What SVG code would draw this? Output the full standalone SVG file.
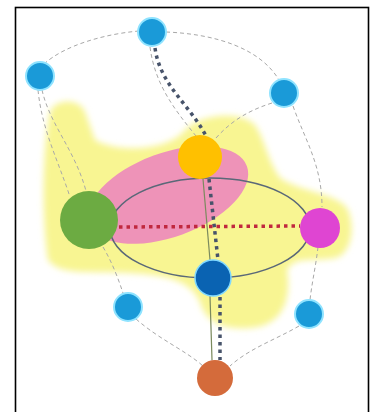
<svg xmlns="http://www.w3.org/2000/svg" width="374" height="412" viewBox="0 0 374 412">
<style>
.net{fill:none;stroke:#a8a8a8;stroke-width:1;stroke-dasharray:4 3}
.dot{fill:none;stroke:#47536a;stroke-width:3.5;stroke-dasharray:3.5 4}
.red{fill:none;stroke:#c0283e;stroke-width:3.5;stroke-dasharray:3.5 4}
.thin{fill:none;stroke:#7b8a5e;stroke-width:1.2}
.ring{fill:none;stroke:#5a6878;stroke-width:1.6}
.sb{fill:#1a9ad8;stroke:#8fe3ff;stroke-width:2}
</style>
<defs>
<filter id="soft" x="-10%" y="-10%" width="120%" height="120%"><feGaussianBlur stdDeviation="3"/></filter>
</defs>
<rect x="0" y="0" width="374" height="412" fill="#ffffff"/>
<g id="background">
<path filter="url(#soft)" fill="#f8f592" d="M50,112 C55,98 80,98 85,112 L95,140 C120,154 170,150 185,130 C200,114 240,110 255,125 C265,140 268,162 280,178 C300,192 340,194 348,210 C356,230 350,255 335,258 C310,262 295,256 287,270 C292,300 282,326 250,328 C220,330 205,320 200,302 C190,278 160,275 130,273 C90,271 60,276 48,260 C42,220 42,150 50,112 Z"/>
<ellipse cx="168" cy="195" rx="84" ry="42" transform="rotate(-20 168 195)" fill="#ee93b8"/>
</g>
<g id="connectors">
<path class="net" d="M139,31 C105,34 65,45 44,64"/>
<path class="net" d="M166,32 C215,34 260,48 279,80"/>
<path class="net" d="M150,47 C155,85 175,110 196,136"/>
<path class="net" d="M42,90 C50,125 75,150 86,191"/>
<path class="net" d="M38,90 C42,130 58,160 70,197"/>
<path class="net" d="M272,103 C250,110 232,120 216,138"/>
<path class="net" d="M293,106 C305,140 322,165 322,207"/>
<path class="net" d="M103,247 C112,262 118,278 123,293"/>
<path class="net" d="M136,319 C160,340 185,350 203,366"/>
<path class="net" d="M318,247 C316,265 312,282 310,300"/>
<path class="net" d="M299,326 C275,340 250,348 230,366"/>
<ellipse class="ring" cx="210" cy="228" rx="100" ry="50"/>
<path class="thin" d="M203,179 L210,260"/>
<path class="thin" d="M210,296 L212,360"/>
<path class="dot" d="M155,48 C160,85 190,105 206,136"/>
<path class="dot" d="M209,179 L218,260"/>
<path class="dot" d="M220,297 L220,360"/>
<path class="red" d="M119,227 L300,226"/>
</g>
<g id="n-top"><circle class="sb" cx="152" cy="32" r="14"/></g>
<g id="n-left"><circle class="sb" cx="40" cy="76" r="14"/></g>
<g id="n-right"><circle class="sb" cx="284" cy="93" r="14"/></g>
<g id="n-orange"><circle cx="200" cy="157" r="22" fill="#ffc000"/></g>
<g id="n-green"><circle cx="89" cy="220" r="29" fill="#6cab42"/></g>
<g id="n-magenta"><circle cx="320" cy="228" r="20" fill="#df45d2"/></g>
<g id="n-darkblue"><circle cx="213" cy="278" r="18" fill="#0a63b2" stroke="#7fd8ff" stroke-width="1.5"/></g>
<g id="n-lowleft"><circle class="sb" cx="128" cy="307" r="14"/></g>
<g id="n-lowright"><circle class="sb" cx="309" cy="314" r="14"/></g>
<g id="n-bottom"><circle cx="215" cy="378" r="18" fill="#d46b3b"/></g>
<rect x="15.5" y="7.5" width="353" height="410" fill="none" stroke="#000" stroke-width="1.6"/>
</svg>
